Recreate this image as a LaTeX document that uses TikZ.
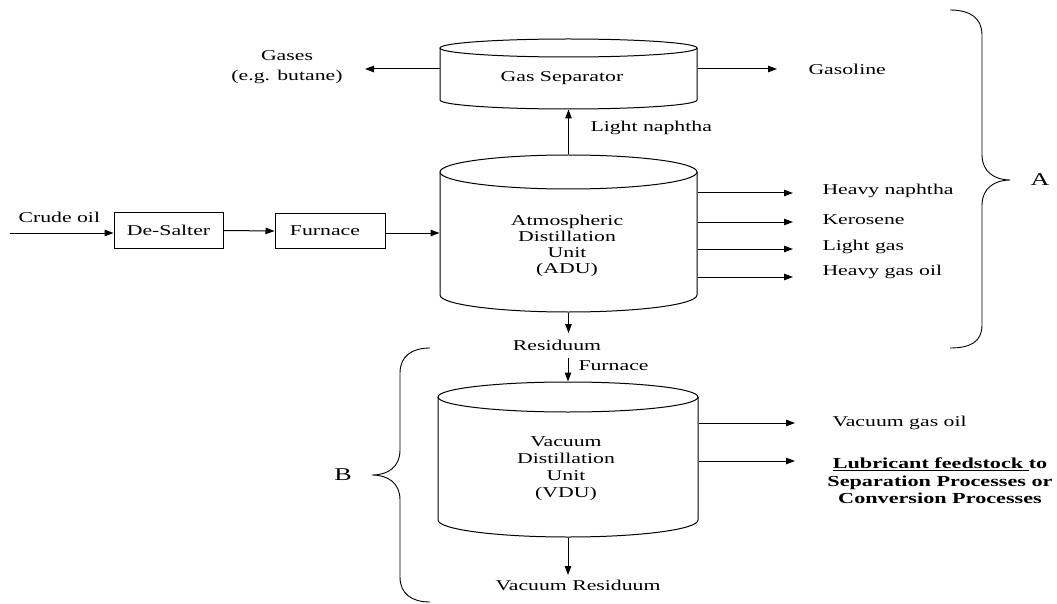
\documentclass[tikz,border=0pt]{standalone}
\usepackage{fontspec}
\setmainfont{Liberation Serif}[FakeStretch=1.45]
\usetikzlibrary{arrows.meta}
\begin{document}
\begin{tikzpicture}[x=1pt,y=-1pt,line width=1pt,
  arr/.style={-{Triangle[length=9pt,width=6.5pt]}},
  txt/.style={font=\fontsize{15}{16}\selectfont,inner sep=0pt},
  bold/.style={font=\fontsize{15.3}{17.5}\selectfont\bfseries,inner sep=0pt},
  procbox/.style={draw,inner sep=0pt,font=\fontsize{15}{16}\selectfont},
  cyl/.style={draw=none,inner sep=0pt}]
\useasboundingbox (0,0) rectangle (1057,604);

% ---------- Gas separator ----------
\node[cyl,minimum width=257pt,minimum height=70pt] (gs) at (568.5,74) {};
\draw (568.5,48) ellipse [x radius=128.5pt,y radius=9pt];
\draw (440,48) -- (440,100) arc[start angle=180,end angle=360,x radius=128.5pt,y radius=9pt] -- (697,48);
\node[txt] (gstext) at (562,78) {Gas Separator};

% ---------- ADU ----------
\node[cyl,minimum width=257pt,minimum height=157pt] (adu) at (568.5,233.5) {};
\draw (568.5,172) ellipse [x radius=128.5pt,y radius=17pt];
\draw (440,172) -- (440,295) arc[start angle=180,end angle=360,x radius=128.5pt,y radius=17pt] -- (697,172);
\node[txt,align=center] (adutext) at (567,246) {Atmospheric\\Distillation\\Unit\\(ADU)};

% ---------- VDU ----------
\node[cyl,minimum width=260pt,minimum height=155pt] (vdu) at (568,459.5) {};
\draw (568,397) ellipse [x radius=130pt,y radius=15pt];
\draw (438,397) -- (438,520) arc[start angle=180,end angle=360,x radius=130pt,y radius=17pt] -- (698,397);
\node[txt,align=center,font=\fontsize{15}{17}\selectfont] (vdutext) at (566,469) {Vacuum\\Distillation\\Unit\\(VDU)};

% ---------- Left chain ----------
\node[procbox,minimum width=109pt,minimum height=35pt] (ds) at (168.5,230.5) {\raisebox{-3pt}{De-Salter}};
\node[procbox,minimum width=110pt,minimum height=34pt] (fur) at (330,231) {\hspace*{-10pt}\raisebox{-2pt}{Furnace}};
\node[txt,anchor=west] (crude) at (18,217) {Crude oil};
\coordinate (cin) at (10,233);
\draw[arr] (cin) -- (cin -| ds.west);
\draw[arr] (ds.east) -- (fur.west);
\draw[arr] (fur.east |- 0,233) -- (adu.west |- 0,233);

% ---------- Gas separator connections ----------
\draw[arr] (adu.north) -- (gs.south);
\node[txt,anchor=west] (ln) at (590,128) {Light naphtha};
\node[txt,align=center,font=\fontsize{15}{20}\selectfont] (gases) at (287,67) {Gases\\(e.g. butane)};
\coordinate (gasout) at (365,69);
\draw[arr] (gs.west |- gasout) -- (gasout);
\node[txt,anchor=west] (gasoline) at (808,69) {Gasoline};
\coordinate (gasoout) at (777,69);
\draw[arr] (gs.east |- gasoout) -- (gasoout);

% ---------- ADU side products ----------
\node[txt,anchor=west] (hn) at (822,191) {Heavy naphtha};
\node[txt,anchor=west] (ke) at (822,220) {Kerosene};
\node[txt,anchor=west] (lg) at (822,247) {Light gas};
\node[txt,anchor=west] (hg) at (822,272) {Heavy gas oil};
\coordinate (t1) at (793,193);
\coordinate (t2) at (793,222);
\coordinate (t3) at (793,249);
\coordinate (t4) at (793,277);
\draw[arr] (adu.east |- t1) -- (t1);
\draw[arr] (adu.east |- t2) -- (t2);
\draw[arr] (adu.east |- t3) -- (t3);
\draw[arr] (adu.east |- t4) -- (t4);

% ---------- Residuum ----------
\node[txt] (res) at (557,345) {Residuum};
\coordinate (r1) at (568.5,333);
\draw[arr] (adu.south) -- (r1);
\node[txt,anchor=west] (fur2) at (578,366) {Furnace};
\coordinate (r2) at (568,358);
\draw[arr] (r2) -- (vdu.north);

% ---------- VDU products ----------
\node[txt,anchor=west] (vgo) at (832,423) {Vacuum gas oil};
\coordinate (v1) at (795,423);
\draw[arr] (vdu.east |- v1) -- (v1);
\node[bold,align=center] (lub) at (940,481) {\underline{Lubricant feedstock }to\\Separation Processes or\\Conversion Processes};
\coordinate (v2) at (795,461);
\draw[arr] (vdu.east |- v2) -- (v2);
\node[txt] (vr) at (578,585) {Vacuum Residuum};
\coordinate (v3) at (568,575);
\draw[arr] (vdu.south) -- (v3);

% ---------- Braces ----------
\draw[line width=0.9pt] (950,10) .. controls (970,10) and (982,18) .. (982,35) -- (982,155)
  .. controls (982,172) and (995,180) .. (1010,180)
  .. controls (995,180) and (982,188) .. (982,205) -- (982,325)
  .. controls (982,342) and (970,348) .. (950,348);
\node[txt,font=\fontsize{18}{20}\selectfont] (A) at (1040,180) {A};
\draw[line width=0.9pt] (430,348) .. controls (412,348) and (400,356) .. (400,373) -- (400,450)
  .. controls (400,467) and (388,475) .. (372,475)
  .. controls (388,475) and (400,483) .. (400,500) -- (400,577)
  .. controls (400,594) and (412,602) .. (430,602);
\node[txt,font=\fontsize{18}{20}\selectfont] (B) at (343,475) {B};
\end{tikzpicture}
\end{document}
